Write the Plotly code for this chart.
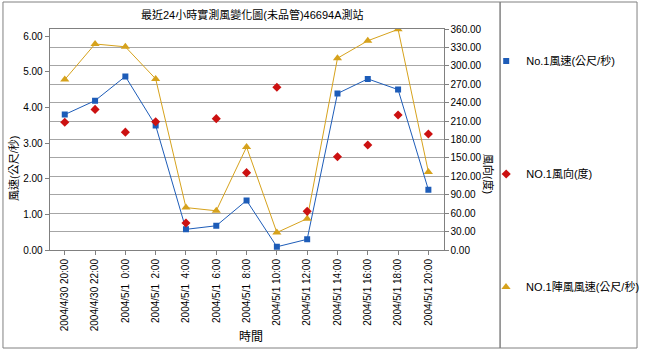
import plotly.graph_objects as go

categories = ["2004/4/30 20:00", "2004/4/30 22:00", "2004/5/1\u00a0\u00a00:00", "2004/5/1\u00a0\u00a02:00",
              "2004/5/1\u00a0\u00a04:00", "2004/5/1\u00a0\u00a06:00", "2004/5/1\u00a0\u00a08:00", "2004/5/1 10:00",
              "2004/5/1 12:00", "2004/5/1 14:00", "2004/5/1 16:00", "2004/5/1 18:00", "2004/5/1 20:00"]
wind_speed = [3.80, 4.19, 4.87, 3.49, 0.58, 0.68, 1.39, 0.09, 0.30, 4.39, 4.80, 4.50, 1.69]
wind_dir = [208, 229, 192, 209, 44, 214, 126, 265, 63, 152, 171, 220, 189]
gust_speed = [4.78, 5.78, 5.70, 4.80, 1.19, 1.10, 2.89, 0.49, 0.88, 5.38, 5.87, 6.19, 2.19]

names = ["No.1風速(公尺/秒)", "NO.1風向(度)", "NO.1陣風風速(公尺/秒)"]
BLUE = "#1d5cb8"
RED = "#cc1111"
GOLD = "#d6a21c"
FONT = "Arial, 'Liberation Sans', 'Noto Sans CJK TC', sans-serif"
W, H = 645, 351

def px(x):
    return x / W

def py(y):
    return 1 - y / H

fig = go.Figure()
# lines (no legend)
fig.add_trace(go.Scatter(x=categories, y=wind_speed, mode="lines", line=dict(color=BLUE, width=1),
                         showlegend=False, hoverinfo="skip"))
fig.add_trace(go.Scatter(x=categories, y=gust_speed, mode="lines", line=dict(color=GOLD, width=1),
                         showlegend=False, hoverinfo="skip"))
# markers (legend)
fig.add_trace(go.Scatter(x=categories, y=wind_speed, mode="markers", name=names[0],
                         marker=dict(symbol="square", size=6, color=BLUE), legend="legend"))
fig.add_trace(go.Scatter(x=categories, y=wind_dir, mode="markers", name=names[1], yaxis="y2",
                         marker=dict(symbol="diamond", size=7, color=RED), legend="legend2"))
fig.add_trace(go.Scatter(x=categories, y=gust_speed, mode="markers", name=names[2],
                         marker=dict(symbol="triangle-up", size=8, color=GOLD), legend="legend3"))

axis_grey = "#808080"
legend_common = dict(font=dict(family=FONT, size=11, color="#000"), bgcolor="rgba(0,0,0,0)",
                     xanchor="left", yanchor="middle", x=px(490))

def ann(text, x, y, size=11, angle=0):
    return dict(text=text, xref="paper", yref="paper", x=px(x), y=py(y), showarrow=False,
                xanchor="center", yanchor="middle", textangle=angle, font=dict(size=size))

fig.update_layout(
    width=W, height=H, autosize=False,
    margin=dict(l=0, r=0, t=0, b=0, pad=0),
    paper_bgcolor="white", plot_bgcolor="white",
    font=dict(family=FONT, size=11, color="#000"),
    xaxis=dict(domain=[px(50), px(447)], type="category", range=[-0.5, 12.5],
               tickangle=-90, ticks="outside", ticklen=4, tickcolor=axis_grey,
               showline=True, linecolor=axis_grey, linewidth=1, mirror=True,
               showgrid=False, tickfont=dict(size=10), automargin=False),
    yaxis=dict(domain=[py(250), py(29)], range=[0, 6.2], dtick=1, tick0=0, tickformat=".2f",
               ticks="outside", ticklen=4, tickcolor=axis_grey, showline=True, linecolor=axis_grey,
               showgrid=False, zeroline=False, tickfont=dict(size=10), automargin=False),
    yaxis2=dict(overlaying="y", side="right", range=[0, 360], dtick=30, tick0=0, tickformat=".2f",
                ticks="outside", ticklen=4, tickcolor=axis_grey, showline=True, linecolor=axis_grey,
                showgrid=True, gridcolor="#a6a6a6", gridwidth=1, zeroline=False,
                tickfont=dict(size=10), automargin=False),
    legend=dict(y=py(61), **legend_common),
    legend2=dict(y=py(174), **legend_common),
    legend3=dict(y=py(287), **legend_common),
    shapes=[
        dict(type="rect", xref="paper", yref="paper", x0=px(3), x1=px(504), y0=py(348), y1=py(2),
             line=dict(color=axis_grey, width=1)),
        dict(type="rect", xref="paper", yref="paper", x0=px(504), x1=px(642), y0=py(348), y1=py(2),
             line=dict(color=axis_grey, width=1)),
    ],
    annotations=[
        ann("最近24小時實測風變化圖(未品管)46694A測站", 254, 14),
        ann("時間", 253, 337, size=12),
        ann("風速(公尺/秒)", 13, 168, angle=-90),
        ann("風向(度)", 493, 174, angle=90),
    ],
)

fig.write_html("out.html")
